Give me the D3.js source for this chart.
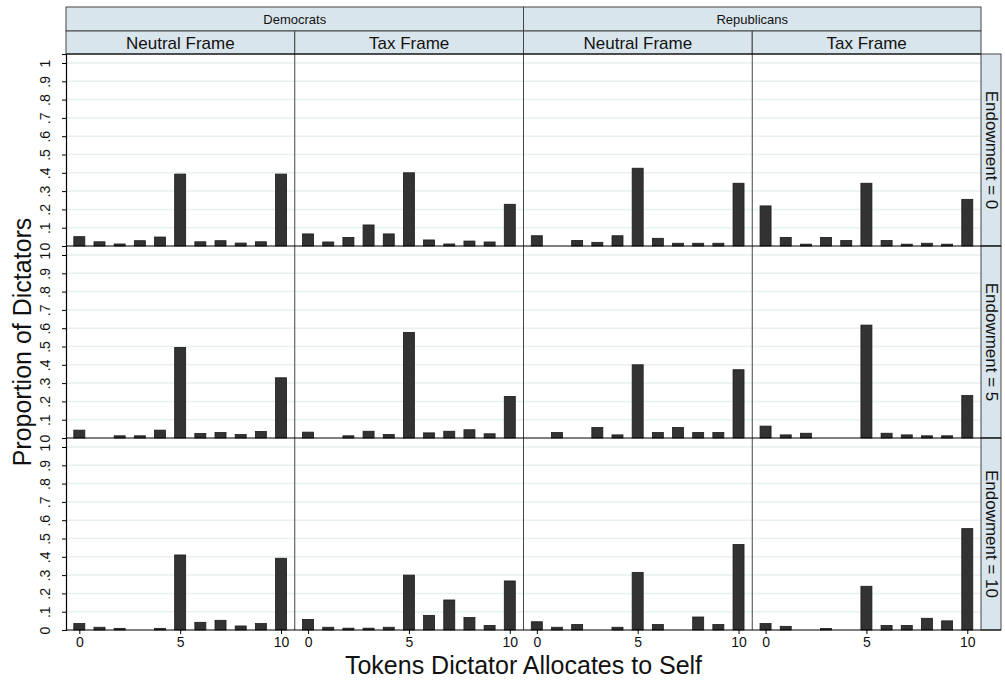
<!DOCTYPE html>
<html>
<head>
<meta charset="utf-8">
<script src="https://cdn.jsdelivr.net/npm/d3@7"></script>
<style>
  html, body { margin: 0; padding: 0; background: #fff; }
  svg { display: block; font-family: "Liberation Sans", Arial, sans-serif; }
</style>
</head>
<body>
<svg id="chart" width="1005" height="681"></svg>
<script>
// Tokens the dictator keeps (0..10)
const tokens = [0, 1, 2, 3, 4, 5, 6, 7, 8, 9, 10];
const parties = ["Democrats", "Republicans"];
const frames = ["Neutral Frame", "Tax Frame"];
const endowments = [0, 5, 10];
const yTicks = [0, 0.1, 0.2, 0.3, 0.4, 0.5, 0.6, 0.7, 0.8, 0.9, 1];
const xTicks = [0, 5, 10];

// Proportion of dictators choosing each allocation
const demNeutralE0 = [0.051, 0.023, 0.011, 0.029, 0.049, 0.393, 0.023, 0.029, 0.016, 0.023, 0.393];
const demTaxE0     = [0.066, 0.022, 0.047, 0.115, 0.066, 0.400, 0.033, 0.011, 0.027, 0.022, 0.228];
const repNeutralE0 = [0.056, 0, 0.030, 0.020, 0.056, 0.425, 0.042, 0.015, 0.015, 0.015, 0.343];
const repTaxE0     = [0.219, 0.047, 0.010, 0.047, 0.030, 0.343, 0.030, 0.010, 0.015, 0.010, 0.255];

const demNeutralE5 = [0.043, 0, 0.012, 0.012, 0.043, 0.495, 0.025, 0.030, 0.019, 0.036, 0.329];
const demTaxE5     = [0.032, 0, 0.012, 0.037, 0.019, 0.577, 0.028, 0.037, 0.045, 0.023, 0.227];
const repNeutralE5 = [0, 0.030, 0, 0.057, 0.017, 0.400, 0.030, 0.057, 0.030, 0.030, 0.373];
const repTaxE5     = [0.065, 0.017, 0.026, 0, 0, 0.617, 0.026, 0.017, 0.012, 0.012, 0.232];

const demNeutralE10 = [0.035, 0.015, 0.009, 0, 0.009, 0.410, 0.042, 0.053, 0.022, 0.035, 0.392];
const demTaxE10     = [0.058, 0.015, 0.010, 0.010, 0.015, 0.300, 0.080, 0.164, 0.068, 0.025, 0.268];
const repNeutralE10 = [0.045, 0.015, 0.030, 0, 0.015, 0.315, 0.030, 0, 0.071, 0.030, 0.467];
const repTaxE10     = [0.035, 0.020, 0, 0.008, 0, 0.239, 0.025, 0.025, 0.064, 0.050, 0.554];

// Panel grid: rows = endowment, columns = party x frame
const panelValues = [
  [demNeutralE0, demTaxE0, repNeutralE0, repTaxE0],
  [demNeutralE5, demTaxE5, repNeutralE5, repTaxE5],
  [demNeutralE10, demTaxE10, repNeutralE10, repTaxE10]
];

const svg = d3.select("#chart");

const plotLeft = 66, plotRight = 981;
const colW = (plotRight - plotLeft) / 4;
const rowTop = 54, rowH = 192;
const stripTop = 7, stripMid = 31;
const rightStripW = 20;
const stripFill = "#d9e5ec";
const gridColor = "#e9f0f2";

const colLeft = c => plotLeft + c * colW;
const rowTopY = r => rowTop + r * rowH;

const xScale = c => d3.scaleLinear().domain([-0.66, 10.68]).range([colLeft(c), colLeft(c) + colW]);
const yScale = r => d3.scaleLinear().domain([0, 1.0492]).range([rowTopY(r) + rowH, rowTopY(r)]);

const barW = 11;

// Panels
panelValues.forEach((row, r) => {
  const y = yScale(r);
  row.forEach((vals, c) => {
    const x = xScale(c);
    const g = svg.append("g");
    // gridlines
    g.selectAll("line.grid")
      .data(yTicks.filter(t => t > 0))
      .join("line")
      .attr("x1", colLeft(c)).attr("x2", colLeft(c) + colW)
      .attr("y1", d => y(d)).attr("y2", d => y(d))
      .attr("stroke", gridColor).attr("stroke-width", 1.5);
    // bars
    g.selectAll("rect.bar")
      .data(tokens.map((t, i) => ({ t, v: vals[i] })).filter(d => d.v > 0))
      .join("rect")
      .attr("x", d => x(d.t) - barW / 2)
      .attr("width", barW)
      .attr("y", d => y(d.v))
      .attr("height", d => y(0) - y(d.v))
      .attr("fill", "#333333")
      .attr("stroke", "#1a1a1a")
      .attr("stroke-width", 0.8);
  });
});

// Column separators
for (let c = 1; c < 4; c++) {
  svg.append("line")
    .attr("x1", colLeft(c)).attr("x2", colLeft(c))
    .attr("y1", c === 2 ? stripTop : stripMid).attr("y2", rowTopY(3))
    .attr("stroke", "#444").attr("stroke-width", 1);
}

// Top strips: party
parties.forEach((p, i) => {
  const x0 = colLeft(i * 2), w = colW * 2;
  svg.append("rect").attr("x", x0).attr("y", stripTop).attr("width", w).attr("height", stripMid - stripTop)
    .attr("fill", stripFill).attr("stroke", "#444").attr("stroke-width", 1);
  svg.append("text").attr("x", x0 + w / 2).attr("y", (stripTop + stripMid) / 2)
    .attr("text-anchor", "middle").attr("dominant-baseline", "central")
    .attr("font-size", 13).attr("fill", "#111").text(p);
});
// Second strips: frame
for (let c = 0; c < 4; c++) {
  svg.append("rect").attr("x", colLeft(c)).attr("y", stripMid).attr("width", colW).attr("height", rowTop - stripMid)
    .attr("fill", stripFill).attr("stroke", "#444").attr("stroke-width", 1);
  svg.append("text").attr("x", colLeft(c) + colW / 2).attr("y", (stripMid + rowTop) / 2 + 1)
    .attr("text-anchor", "middle").attr("dominant-baseline", "central")
    .attr("font-size", 17).attr("fill", "#111").text(frames[c % 2]);
}
// Right strips: endowment
endowments.forEach((e, r) => {
  svg.append("rect").attr("x", plotRight).attr("y", rowTopY(r)).attr("width", rightStripW).attr("height", rowH)
    .attr("fill", stripFill).attr("stroke", "#444").attr("stroke-width", 1);
  const cx = plotRight + rightStripW / 2, cy = rowTopY(r) + rowH / 2;
  svg.append("text").attr("transform", `translate(${cx},${cy}) rotate(90)`)
    .attr("text-anchor", "middle").attr("dominant-baseline", "central")
    .attr("font-size", 17).attr("fill", "#111").text(`Endowment = ${e}`);
});

// Row baselines
for (let r = 0; r < 3; r++) {
  svg.append("line")
    .attr("x1", plotLeft).attr("x2", plotRight + rightStripW)
    .attr("y1", rowTopY(r) + rowH).attr("y2", rowTopY(r) + rowH)
    .attr("stroke", "#000").attr("stroke-width", 1.2);
}
svg.append("line").attr("x1", plotLeft).attr("x2", plotRight)
  .attr("y1", rowTop).attr("y2", rowTop).attr("stroke", "#000").attr("stroke-width", 1.2);

// Y axes (one per row)
const fmt = d => d === 0 ? "0" : d === 1 ? "1" : d3.format(".1f")(d).replace(/^0/, "");
for (let r = 0; r < 3; r++) {
  const ax = svg.append("g").attr("transform", `translate(${plotLeft},0)`)
    .call(d3.axisLeft(yScale(r)).tickValues(yTicks).tickFormat(fmt).tickSize(4).tickPadding(4));
  ax.select(".domain").attr("stroke", "#000").attr("stroke-width", 1.2);
  ax.selectAll(".tick line").attr("stroke", "#000");
  ax.selectAll(".tick text")
    .attr("font-size", 14).attr("fill", "#111")
    .attr("font-family", "Liberation Sans, Arial, sans-serif")
    .attr("text-anchor", "middle").attr("dy", null)
    .attr("dominant-baseline", "auto")
    .attr("transform", "translate(-16,0) rotate(-90)")
    .attr("x", 0).attr("y", 0);
}

// X axes (bottom row)
for (let c = 0; c < 4; c++) {
  const ax = svg.append("g").attr("transform", `translate(0,${rowTopY(3)})`)
    .call(d3.axisBottom(xScale(c)).tickValues(xTicks).tickSize(4).tickPadding(3));
  ax.select(".domain").remove();
  ax.selectAll(".tick line").attr("stroke", "#000");
  ax.selectAll(".tick text").attr("font-size", 14).attr("fill", "#111")
    .attr("font-family", "Liberation Sans, Arial, sans-serif");
}

// Axis titles
svg.append("text")
  .attr("transform", `translate(${22},${(rowTop + rowTopY(3)) / 2}) rotate(-90)`)
  .attr("text-anchor", "middle").attr("dominant-baseline", "central")
  .attr("font-size", 25).attr("fill", "#111").text("Proportion of Dictators");
svg.append("text")
  .attr("x", (plotLeft + plotRight) / 2).attr("y", 674)
  .attr("text-anchor", "middle")
  .attr("font-size", 25).attr("fill", "#111").text("Tokens Dictator Allocates to Self");
</script>
</body>
</html>
